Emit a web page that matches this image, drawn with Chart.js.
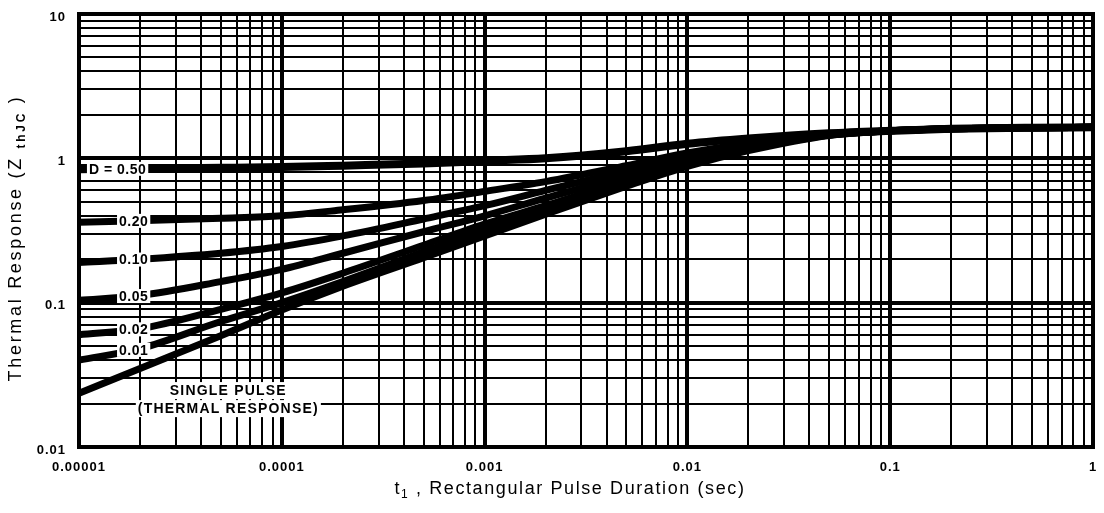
<!DOCTYPE html>
<html><head><meta charset="utf-8">
<script src="https://cdn.jsdelivr.net/npm/chart.js@4/dist/chart.umd.min.js"></script>
<style>html,body{margin:0;padding:0;background:#fff}canvas{display:block}</style>
</head><body>
<canvas id="c" width="1104" height="513"></canvas>
<script>
// ---- data ----
const pulseDurations = [1e-5,2e-5,5e-5,1e-4,2e-4,5e-4,1e-3,2e-3,5e-3,1e-2,2e-2,5e-2,1e-1,2e-1,5e-1,1];
const zD050 = [0.84,0.85,0.86,0.87,0.89,0.92,0.96,1.00,1.12,1.26,1.37,1.49,1.55,1.60,1.63,1.64];
const zD020 = [0.36,0.37,0.385,0.40,0.44,0.51,0.59,0.69,0.89,1.09,1.27,1.47,1.55,1.60,1.63,1.64];
const zD010 = [0.19,0.20,0.22,0.245,0.29,0.38,0.47,0.60,0.82,1.02,1.22,1.46,1.55,1.60,1.63,1.64];
const zD005 = [0.104,0.112,0.14,0.17,0.22,0.31,0.40,0.53,0.76,0.97,1.19,1.45,1.55,1.60,1.63,1.64];
const zD002 = [0.06,0.066,0.09,0.117,0.16,0.25,0.35,0.47,0.71,0.93,1.17,1.45,1.55,1.60,1.63,1.64];
const zD001 = [0.04,0.048,0.074,0.10,0.14,0.225,0.32,0.44,0.68,0.91,1.15,1.45,1.55,1.60,1.63,1.64];
const zSingle = [0.0236,0.035,0.059,0.089,0.13,0.205,0.29,0.41,0.64,0.88,1.13,1.44,1.55,1.60,1.63,1.64];
const curveLabels = ['D = 0.50','0.20','0.10','0.05','0.02','0.01'];
const singleLabel = ['SINGLE PULSE','(THERMAL RESPONSE)'];
const xTickValues = [1e-5,1e-4,1e-3,1e-2,1e-1,1];
const xTickLabels = ['0.00001','0.0001','0.001','0.01','0.1','1'];
const yTickValues = [0.01,0.1,1,10];
const yTickLabels = ['0.01','0.1','1','10'];
const xTitle = ['t', '1', ' , Rectangular Pulse Duration (sec)'];
const yTitle = ['Thermal Response (Z ', 'thJC', ' )'];

// ---- helpers ----
const series = [zD050, zD020, zD010, zD005, zD002, zD001, zSingle];
function isMajor(v){ const l = Math.log10(v); return Math.abs(l - Math.round(l)) < 1e-6; }
function logTicks(min, max){
  const t = [];
  for (let e = Math.round(Math.log10(min)); e < Math.round(Math.log10(max)); e++)
    for (let m = 1; m < 10; m++) t.push({value: parseFloat((m * Math.pow(10, e)).toPrecision(6))});
  t.push({value: max});
  return t;
}
function labelFor(v, vals, labels){
  for (let i = 0; i < vals.length; i++) if (Math.abs(v / vals[i] - 1) < 1e-6) return labels[i];
  return '';
}
function interpLog(xs, ys, xv){
  const lx = Math.log10(xv);
  for (let i = 0; i < xs.length - 1; i++){
    const a = Math.log10(xs[i]), b = Math.log10(xs[i+1]);
    if (lx >= a && lx <= b){
      const t = (lx - a) / (b - a);
      return Math.pow(10, Math.log10(ys[i]) + t * (Math.log10(ys[i+1]) - Math.log10(ys[i])));
    }
  }
  return ys[0];
}
const FONT = '"Liberation Sans", Arial, Helvetica, sans-serif';

const decor = {
  id: 'decor',
  beforeDraw(chart){ chart.ctx.letterSpacing = '1px'; },
  afterDatasetsDraw(chart){
    const {ctx, chartArea: ca, scales: {x, y}} = chart;
    ctx.save();
    // curve labels with white background
    ctx.font = 'bold 14px ' + FONT;
    ctx.letterSpacing = '0.5px';
    ctx.textBaseline = 'middle';
    ctx.textAlign = 'center';
    curveLabels.forEach((lab, i) => {
      const xv = i === 0 ? 1.55e-5 : 1.86e-5;
      const yv = interpLog(pulseDurations, series[i], xv);
      const px = x.getPixelForValue(xv), py = y.getPixelForValue(yv);
      const w = ctx.measureText(lab).width;
      ctx.fillStyle = '#fff';
      ctx.fillRect(px - w/2 - 2, py - 7, w + 4, 14);
      ctx.fillStyle = '#000';
      ctx.fillText(lab, px, py + 1);
    });
    // single pulse annotation
    ctx.font = 'bold 14px ' + FONT;
    ctx.letterSpacing = '1.2px';
    const sx = x.getPixelForValue(5.45e-5);
    const sy = [y.getPixelForValue(0.0248), y.getPixelForValue(0.0186)];
    singleLabel.forEach((lab, i) => {
      const w = ctx.measureText(lab).width;
      ctx.fillStyle = '#fff';
      ctx.fillRect(sx - w/2 - 2, sy[i] - 8, w + 4, 17);
    });
    singleLabel.forEach((lab, i) => { ctx.fillStyle = '#000'; ctx.fillText(lab, sx, sy[i] + 1); });
    // frame
    ctx.strokeStyle = '#000';
    ctx.lineWidth = 4;
    ctx.strokeRect(ca.left, ca.top, ca.right - ca.left, ca.bottom - ca.top);
    ctx.restore();
  },
  afterDraw(chart){
    const {ctx} = chart;
    ctx.save();
    ctx.fillStyle = '#000';
    ctx.textBaseline = 'alphabetic';
    const big = '18px ' + FONT, small = '12px ' + FONT;
    // x title
    ctx.letterSpacing = '1.6px';
    const segsX = [[xTitle[0], big, 0], [xTitle[1], small, 4], [xTitle[2], big, 0]];
    let total = 0;
    segsX.forEach(s => { ctx.font = s[1]; total += ctx.measureText(s[0]).width; });
    let cx = 570 - total / 2;
    segsX.forEach(s => { ctx.font = s[1]; ctx.fillText(s[0], cx, 494 + s[2]); cx += ctx.measureText(s[0]).width; });
    // y title (rotated)
    ctx.letterSpacing = '2.7px';
    ctx.translate(21, 238);
    ctx.rotate(-Math.PI / 2);
    const segsY = [[yTitle[0], big, 0], [yTitle[1], 'bold ' + small, 4], [yTitle[2], big, 0]];
    total = 0;
    segsY.forEach(s => { ctx.font = s[1]; total += ctx.measureText(s[0]).width; });
    cx = -total / 2;
    segsY.forEach(s => { ctx.font = s[1]; ctx.fillText(s[0], cx, s[2]); cx += ctx.measureText(s[0]).width; });
    ctx.restore();
  }
};

const mkDs = (vals, w) => ({
  data: pulseDurations.map((t, i) => ({x: t, y: vals[i]})),
  borderColor: '#000', borderWidth: w, pointRadius: 0,
  cubicInterpolationMode: 'monotone', fill: false
});

const gridOpts = {
  color: '#000',
  lineWidth: ctx => (ctx.tick && isMajor(ctx.tick.value)) ? 4 : 2,
  drawTicks: false
};

new Chart(document.getElementById('c'), {
  type: 'line',
  data: { datasets: [mkDs(zD050, 8), mkDs(zD020, 7), mkDs(zD010, 7), mkDs(zD005, 7), mkDs(zD002, 7), mkDs(zD001, 7), mkDs(zSingle, 7)] },
  options: {
    responsive: false,
    animation: false,
    events: [],
    layout: { padding: { top: 14, right: 11, left: 0, bottom: 0 } },
    plugins: { legend: { display: false }, tooltip: { enabled: false } },
    scales: {
      x: {
        type: 'logarithmic', min: 1e-5, max: 1,
        afterBuildTicks: s => { s.ticks = logTicks(1e-5, 1); },
        afterFit: s => { s.height = 66; s.paddingLeft = 0; s.paddingRight = 0; },
        grid: gridOpts,
        border: { display: false },
        ticks: {
          autoSkip: false, maxRotation: 0, padding: 13, color: '#000',
          font: { family: FONT, size: 13, weight: 'bold' },
          callback: v => labelFor(v, xTickValues, xTickLabels)
        }
      },
      y: {
        type: 'logarithmic', min: 0.01, max: 10,
        afterBuildTicks: s => { s.ticks = logTicks(0.01, 10); },
        afterFit: s => { s.width = 79; s.paddingTop = 0; s.paddingBottom = 0; },
        grid: gridOpts,
        border: { display: false },
        ticks: {
          autoSkip: false, padding: 13, color: '#000', labelOffset: 3,
          font: { family: FONT, size: 13, weight: 'bold' },
          callback: v => labelFor(v, yTickValues, yTickLabels)
        }
      }
    }
  },
  plugins: [decor]
});
</script>
</body></html>
